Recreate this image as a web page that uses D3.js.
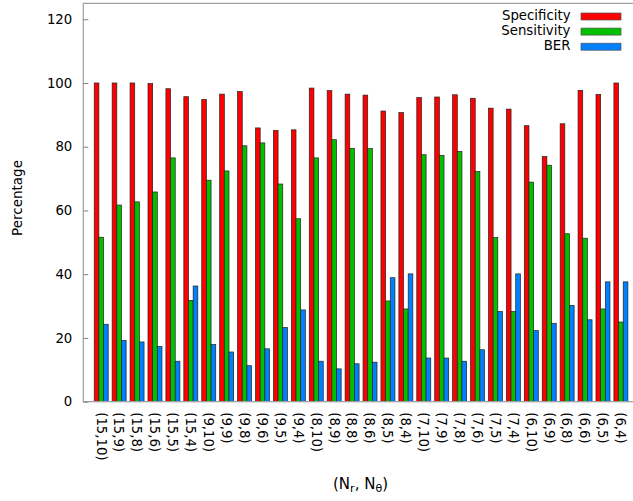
<!DOCTYPE html>
<html>
<head>
<meta charset="utf-8">
<script src="https://cdn.jsdelivr.net/npm/d3@7"></script>
<style>
  html, body { margin: 0; padding: 0; background: #fff; }
  svg { display: block; font-family: "DejaVu Sans", sans-serif; }
</style>
</head>
<body>
<svg id="chart" width="633" height="501"></svg>
<script>
// Grid configurations (N_r, N_theta)
const configs = ["(15,10)","(15,9)","(15,8)","(15,6)","(15,5)","(15,4)","(9,10)","(9,9)","(9,8)","(9,6)",
  "(9,5)","(9,4)","(8,10)","(8,9)","(8,8)","(8,6)","(8,5)","(8,4)","(7,10)","(7,9)",
  "(7,8)","(7,6)","(7,5)","(7,4)","(6,10)","(6,9)","(6,8)","(6,6)","(6,5)","(6,4)"];

const specificity = [100, 100, 100, 99.8, 98.2, 95.7, 94.8, 96.5, 97.3, 85.9,
  85.1, 85.3, 98.4, 97.6, 96.5, 96.2, 91.2, 90.7, 95.4, 95.6,
  96.3, 95.2, 92.1, 91.8, 86.6, 76.9, 87.2, 97.7, 96.4, 100];

const sensitivity = [51.6, 61.7, 62.7, 65.8, 76.5, 31.8, 69.5, 72.4, 80.3, 81.2,
  68.3, 57.4, 76.5, 82.2, 79.5, 79.4, 31.6, 29.1, 77.5, 77.3,
  78.5, 72.2, 51.5, 28.3, 68.9, 74.2, 52.7, 51.3, 29.1, 25.0];

const ber = [24.3, 19.2, 18.75, 17.3, 12.7, 36.3, 17.9, 15.6, 11.3, 16.6,
  23.3, 28.8, 12.7, 10.3, 11.9, 12.4, 38.9, 40.1, 13.7, 13.7,
  12.7, 16.3, 28.3, 40.1, 22.3, 24.6, 30.2, 25.7, 37.6, 37.6];

const yTicks = [0, 20, 40, 60, 80, 100, 120];

const seriesNames = ["Specificity", "Sensitivity", "BER"];
const seriesColors = ["#ff0000", "#00c000", "#0080ff"];
const seriesValues = [specificity, sensitivity, ber];

const svg = d3.select("#chart");
const fs = 13.3;

const plotLeft = 83.3, plotTop = 3.3, plotBottom = 401.7, unit = 17.92;
const plotRight = plotLeft + 31 * unit;

const x = d3.scaleLinear().domain([-1, 30]).range([plotLeft, plotRight]);
const y = d3.scaleLinear().domain([0, 125]).range([plotBottom, plotTop]);

const barW = 0.26; // in group units
const groupW = barW * 3;

// bars
seriesValues.forEach((vals, s) => {
  svg.append("g")
    .selectAll("rect")
    .data(vals)
    .join("rect")
    .attr("x", (d, i) => x(i - groupW / 2 + s * barW))
    .attr("width", x(barW) - x(0))
    .attr("y", d => y(d))
    .attr("height", d => y(0) - y(d))
    .attr("fill", seriesColors[s])
    .attr("stroke", "#222")
    .attr("stroke-width", 0.7);
});

// frame (right side runs past the canvas)
const frame = svg.append("g").attr("fill", "none").attr("stroke", "#a0a0a0").attr("stroke-width", 1.2);
frame.append("path").attr("d", `M${plotRight},${plotTop}H${plotLeft}V${plotBottom}H${plotRight}`);

// y axis ticks and labels
const yAxis = d3.axisLeft(y).tickValues(yTicks).tickSize(-5).tickPadding(11);
const ya = svg.append("g").attr("transform", `translate(${plotLeft},0)`).call(yAxis);
ya.select(".domain").remove();
ya.selectAll(".tick line").attr("stroke", "#808080");
ya.selectAll(".tick text")
  .attr("font-family", "DejaVu Sans, sans-serif")
  .attr("font-size", fs)
  .attr("fill", "#000");

// x category labels (rotated, reading downwards)
svg.append("g")
  .selectAll("text")
  .data(configs)
  .join("text")
  .attr("transform", (d, i) => `translate(${x(i)},${plotBottom + 10.5}) rotate(90)`)
  .attr("dy", "0.35em")
  .attr("text-anchor", "start")
  .attr("font-size", fs)
  .text(d => d);

// axis titles
svg.append("text")
  .attr("transform", `translate(22,198) rotate(-90)`)
  .attr("text-anchor", "middle")
  .attr("font-size", 13.5)
  .text("Percentage");

const xt = svg.append("text")
  .attr("x", 360.5)
  .attr("y", 489)
  .attr("text-anchor", "middle")
  .attr("font-size", 15);
xt.append("tspan").text("(N");
xt.append("tspan").attr("font-size", 11).attr("dy", 3).text("r");
xt.append("tspan").attr("dy", -3).text(", N");
xt.append("tspan").attr("font-size", 11).attr("dy", 3).text("θ");
xt.append("tspan").attr("dy", -3).text(")");

// legend
const legend = svg.append("g");
seriesNames.forEach((name, s) => {
  const base = 19.5 + s * 15.1;
  legend.append("text")
    .attr("x", 570.5)
    .attr("y", base)
    .attr("text-anchor", "end")
    .attr("font-size", fs)
    .text(name);
  legend.append("rect")
    .attr("x", 581)
    .attr("y", base - 6.5)
    .attr("width", 40)
    .attr("height", 7)
    .attr("fill", seriesColors[s])
    .attr("stroke", "#555")
    .attr("stroke-width", 0.7);
});
</script>
</body>
</html>
